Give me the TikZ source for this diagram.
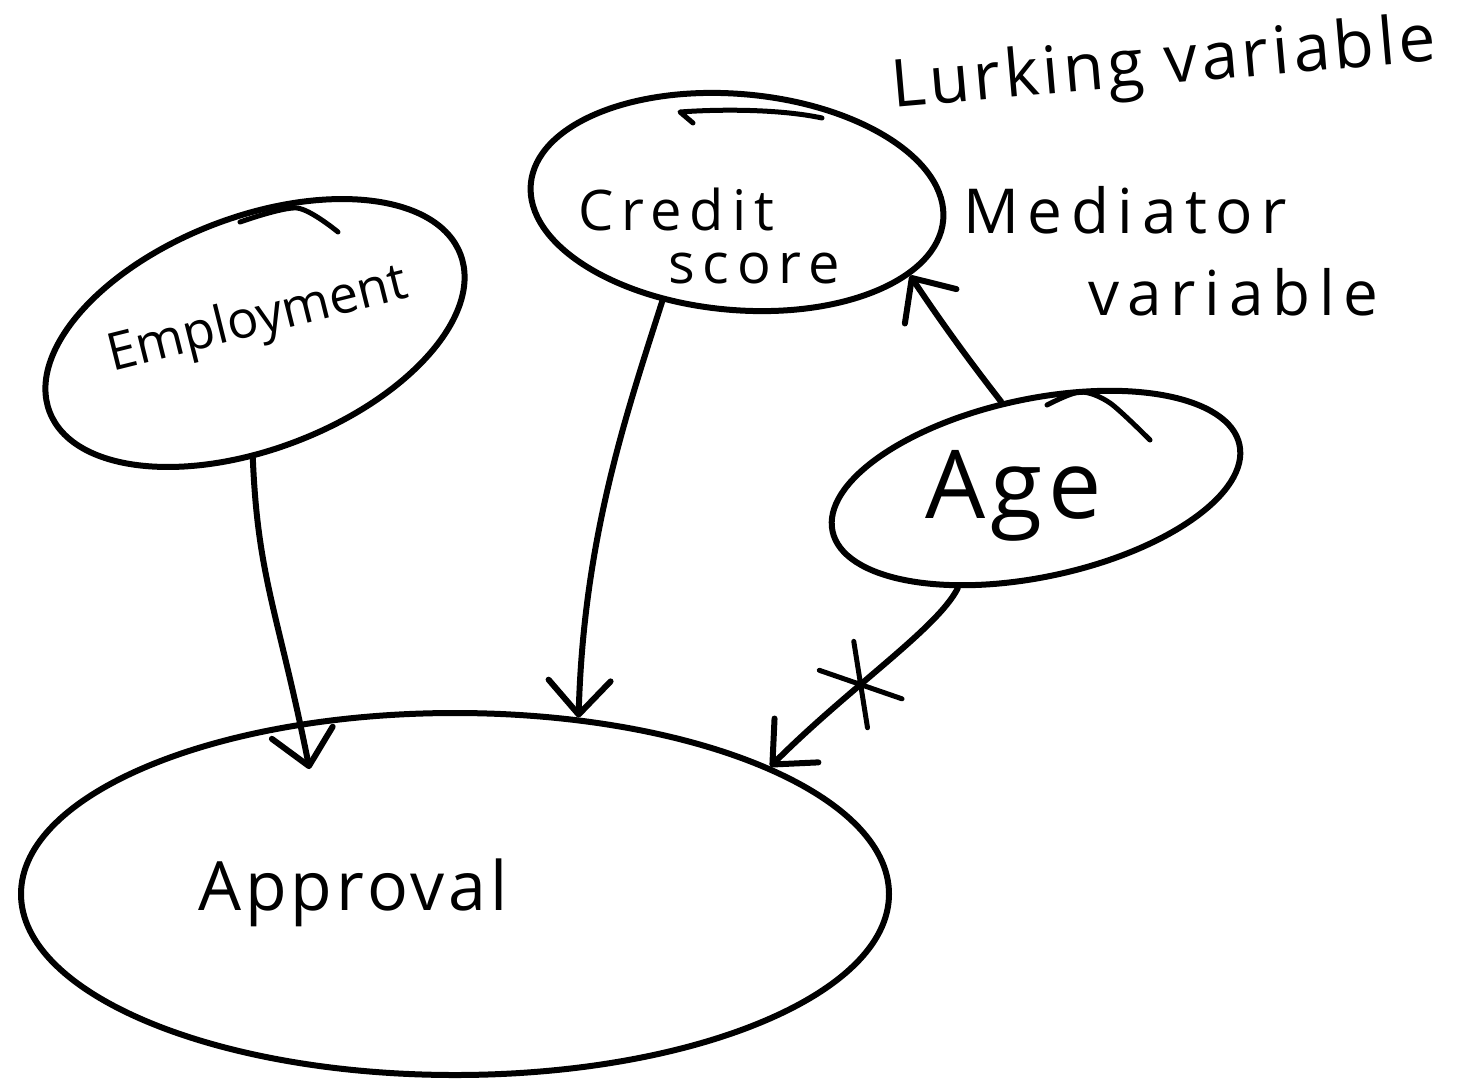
\documentclass[tikz,border=0pt]{standalone}
\usepackage{fontspec}
\setmainfont{Open Sans}
\newfontfamily\hand[LetterSpace=6]{Open Sans}
\newfontfamily\handw[LetterSpace=14]{Open Sans}
\newfontfamily\handn{Open Sans}
\usetikzlibrary{arrows.meta,shapes.geometric,shapes.misc}
\begin{document}
\begin{tikzpicture}[x=1pt,y=-1pt,line width=6pt,line cap=round,line join=round,
  blob/.style={draw,ellipse,inner sep=0pt},
  lbl/.style={inner sep=0pt},
  arr/.style={-{Straight Barb[length=34pt,width=62pt,round]}},
  hook/.style={line width=5pt},
  xmk/.style={draw,cross out,inner sep=0pt,line width=5pt}]
\useasboundingbox (0,0) rectangle (1461,1080);
% shapes
\node[blob,minimum width=440pt,minimum height=232pt,rotate=21] (emp) at (255,333) {};
\node[blob,minimum width=414pt,minimum height=216pt,rotate=-5] (cs) at (737,202) {};
\node[blob,minimum width=416pt,minimum height=178pt,rotate=12] (age) at (1036,488) {};
\node[blob,minimum width=868pt,minimum height=362pt] (app) at (455,894) {};
% hooks of the hand-drawn outlines
\draw[hook] plot[smooth] coordinates {(240,222) (297,208) (338,232)};
\draw[hook] (693,123) -- (680,112) .. controls (720,109) and (780,109) .. (822,118);
\draw[hook] plot[smooth] coordinates {(1047,405) (1080,392) (1110,403) (1150,440)};
% texts
\node[lbl,font={\handn\fontsize{52}{52}\selectfont},rotate=14,anchor=base west] (tEmp) at (110,372) {Employment};
\node[lbl,font={\handw\fontsize{56}{56}\selectfont},anchor=base west] (tCs1) at (575,230) {Credit};
\node[lbl,font={\handw\fontsize{56}{56}\selectfont},anchor=base west] (tCs2) at (665,283) {score};
\node[lbl,font={\hand\fontsize{95}{95}\selectfont},anchor=base west] (tAge) at (922,518) {Age};
\node[lbl,font={\hand\fontsize{68}{68}\selectfont},anchor=base west] (tApp) at (195,910) {Approval};
\node[lbl,font={\hand\fontsize{66}{66}\selectfont},rotate=5,anchor=base west] (tLurk) at (890,108) {Lurking variable};
\node[lbl,font={\handw\fontsize{62}{62}\selectfont},anchor=base west] (tMed1) at (960,233) {Mediator};
\node[lbl,font={\handw\fontsize{62}{62}\selectfont},anchor=base west] (tMed2) at (1085,315) {variable};
% connectors
\draw[arr,shorten >=-48pt] (emp.-112) .. controls +(5,120) and +(-22,-110) .. (app.132);
\draw[arr] (cs.-122) .. controls +(-35,110) and +(5,-180) .. (app.55);
\draw[arr] (age.100) .. controls +(-35,-45) and +(30,45) .. (cs.-18);
\draw[arr] (age.-140) .. controls +(-20,40) and +(80,-80) .. node[xmk,pos=0.62,minimum width=70pt,minimum height=40pt,rotate=-50] (xm) {} (app.22);
\end{tikzpicture}
\end{document}
